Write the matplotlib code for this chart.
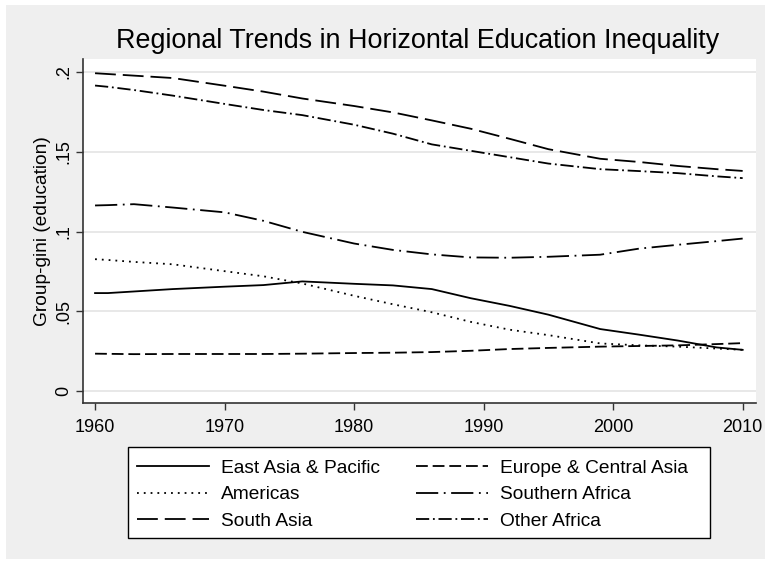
import matplotlib.pyplot as plt
from matplotlib.patches import Rectangle

plt.rcParams["font.family"] = ["Liberation Sans", "DejaVu Sans"]
plt.rcParams["lines.scale_dashes"] = False

# Data #
years = [1960, 1961, 1963, 1966, 1970, 1973, 1976, 1980, 1983, 1986,
         1989, 1992, 1995, 1999, 2002, 2005, 2008, 2010]

east_asia = [.0615, .0615, .0625, .0640, .0655, .0665, .0688, .0673, .0663, .0640,
             .0583, .0535, .0480, .0390, .0355, .0318, .0275, .0260]
americas = [.0827, .0822, .0810, .0795, .0752, .0720, .0675, .0598, .0545, .0495,
            .0435, .0386, .0352, .0300, .0288, .0280, .0268, .0260]
europe_ca = [.0236, .0235, .0233, .0234, .0234, .0234, .0236, .0240, .0242, .0246,
             .0254, .0265, .0272, .0280, .0284, .0288, .0296, .0302]
southern_africa = [.1163, .1165, .1171, .1150, .1120, .1067, .0998, .0925, .0885, .0857,
                   .0838, .0836, .0842, .0855, .0893, .0917, .0940, .0956]
south_asia = [.1990, .1985, .1975, .1960, .1912, .1875, .1832, .1785, .1745, .1695,
              .1643, .1580, .1515, .1455, .1435, .1410, .1390, .1379]
other_africa = [.1913, .1905, .1885, .1850, .1798, .1760, .1728, .1668, .1612, .1545,
                .1505, .1465, .1425, .1390, .1378, .1365, .1345, .1334]

xticks = [1960, 1970, 1980, 1990, 2000, 2010]
yticks = [0, .05, .1, .15, .2]
ytick_labels = ["0", ".05", ".1", ".15", ".2"]

# Figure #
W, H = 765, 561
fig = plt.figure(figsize=(W / 100, H / 100), dpi=100, facecolor="white")
fig.patches.append(Rectangle((6 / W, 2 / H), 1 - 6 / W, (H - 7) / H,
                             transform=fig.transFigure, facecolor="#efefef",
                             edgecolor="none", zorder=-10))

ax = fig.add_axes([83 / W, 1 - 403 / H, (756 - 83) / W, (403 - 59) / H])
ax.set_facecolor("white")

lw = 1.3
ax.plot(years, east_asia, color="black", lw=lw, ls="-", label="East Asia & Pacific")
ax.plot(years, americas, color="black", lw=lw, ls=(0, (1.3, 3.6)), label="Americas")
ax.plot(years, south_asia, color="black", lw=lw, ls=(0, (15, 5)), label="South Asia")
ax.plot(years, europe_ca, color="black", lw=lw, ls=(0, (8.5, 3.5)), label="Europe & Central Asia")
ax.plot(years, southern_africa, color="black", lw=lw, ls=(0, (16, 4, 1.3, 4)), label="Southern Africa")
ax.plot(years, other_africa, color="black", lw=lw, ls=(0, (9.5, 2.7, 1.3, 2.7)), label="Other Africa")

ax.set_xlim(1959.07, 2011.03)
ax.set_ylim(-0.00725, 0.2079)
ax.set_xticks(xticks)
ax.set_yticks(yticks, labels=ytick_labels)
ax.grid(axis="y", color="#e4e4e4", lw=1.2)
ax.set_axisbelow(True)

for side in ["top", "right"]:
    ax.spines[side].set_visible(False)
for side in ["left", "bottom"]:
    ax.spines[side].set_color("#333333")
    ax.spines[side].set_linewidth(1.2)

ax.tick_params(axis="both", direction="out", length=5, width=1.0, color="#333333",
               labelsize=13)
ax.tick_params(axis="x", pad=6.5)
ax.tick_params(axis="y", pad=3)
for lab in ax.get_yticklabels():
    lab.set_rotation(90)
    lab.set_va("center")

ax.set_ylabel("Group-gini (education)", fontsize=13.8)
ax.yaxis.set_label_coords(-0.048, 0.5)
fig.text(418 / W, 1 - 47.7 / H, "Regional Trends in Horizontal Education Inequality",
         ha="center", va="baseline", fontsize=19.4)

# Legend box drawn by hand so its edges sit where the reference has them
ax.add_patch(Rectangle((127.7 / W, 1 - 537.7 / H), (710 - 127.7) / W, (537.7 - 447.3) / H,
                       transform=fig.transFigure, facecolor="white", edgecolor="black",
                       lw=1.0, clip_on=False, zorder=4))
leg = ax.legend(ncol=2, loc="upper left", bbox_to_anchor=(127.7 / W, 1 - 450.5 / H),
                bbox_transform=fig.transFigure, fontsize=13.8, frameon=False,
                handlelength=3.75, handletextpad=0.66, columnspacing=1.85,
                labelspacing=0.47, borderpad=0.47, borderaxespad=0)
leg.set_zorder(5)

fig.savefig("out.png", dpi=100, facecolor="white")
